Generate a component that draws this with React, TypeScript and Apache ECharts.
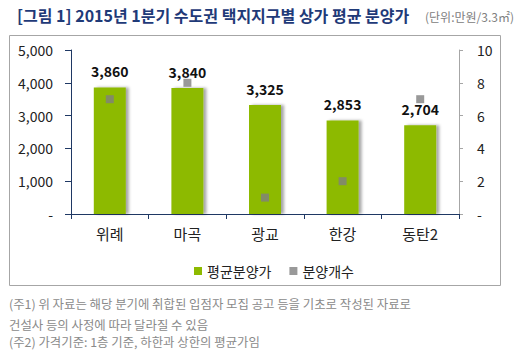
import React, { useEffect, useRef } from "react";
import * as echarts from "echarts";

const categories = ["위례", "마곡", "광교", "한강", "동탄2"];
const avgPrice = [3860, 3840, 3325, 2853, 2704];
const supplyCount = [7, 8, 1, 2, 7];
const seriesNames = ["평균분양가", "분양개수"];
const titleText = "[그림 1] 2015년 1분기 수도권 택지지구별 상가 평균 분양가";
const unitText = "(단위:만원/3.3㎡)";
const notes = [
  "(주1) 위 자료는 해당 분기에 취합된 입점자 모집 공고 등을 기초로 작성된 자료로",
  "건설사 등의 사정에 따라 달라질 수 있음",
  "(주2) 가격기준: 1층 기준, 하한과 상한의 평균가임",
];

const FONT = "'Noto Sans CJK KR', 'Noto Sans', sans-serif";

export default function App() {
  const ref = useRef<HTMLDivElement>(null);
  useEffect(() => {
    document.body.style.margin = "0";
    const chart = echarts.init(ref.current!, null, { renderer: "svg" });
    const navy = "#1f3864";
    chart.setOption({
      animation: false,
      backgroundColor: "#ffffff",
      textStyle: { fontFamily: FONT },
      grid: { left: 71, right: 71, top: 50, bottom: 140 },
      legend: {
        left: 189,
        top: 259,
        itemWidth: 8,
        itemHeight: 8,
        itemGap: 18,
        icon: "rect",
        textStyle: { fontSize: 14, color: "#222", fontFamily: FONT },
        data: seriesNames,
      },
      xAxis: {
        type: "category",
        data: categories,
        axisLine: { lineStyle: { color: navy, width: 1 } },
        axisTick: { show: true, length: 5, lineStyle: { color: navy } },
        axisLabel: { fontSize: 15, color: "#222", margin: 12, fontFamily: FONT },
      },
      yAxis: [
        {
          type: "value",
          min: 0,
          max: 5000,
          interval: 1000,
          splitLine: { show: false },
          axisLine: { show: true, lineStyle: { color: navy } },
          axisTick: { show: true, length: 6, lineStyle: { color: navy } },
          axisLabel: {
            fontSize: 14,
            color: "#222",
            margin: 18,
            fontFamily: FONT,
            formatter: (v: number) => (v === 0 ? "-" : v.toLocaleString("en-US")),
          },
        },
        {
          type: "value",
          min: 0,
          max: 10,
          interval: 2,
          position: "right",
          splitLine: { show: false },
          axisLine: { show: true, lineStyle: { color: "#a6a6a6" } },
          axisTick: { show: true, length: 4, lineStyle: { color: "#a6a6a6" } },
          axisLabel: {
            fontSize: 14,
            color: "#222",
            margin: 18,
            fontFamily: FONT,
            formatter: (v: number) => (v === 0 ? "-" : String(v)),
          },
        },
      ],
      series: [
        {
          name: seriesNames[0],
          type: "bar",
          data: avgPrice,
          barWidth: 32,
          yAxisIndex: 0,
          itemStyle: {
            color: "#8dba00",
            shadowColor: "rgba(0,0,0,0.35)",
            shadowBlur: 3,
            shadowOffsetX: 3,
          },
          label: {
            show: true,
            position: "top",
            distance: 9,
            fontSize: 14,
            fontWeight: "bold",
            color: "#111",
            fontFamily: FONT,
            formatter: (p: any) => Number(p.value).toLocaleString("en-US"),
          },
        },
        {
          name: seriesNames[1],
          type: "scatter",
          data: supplyCount,
          yAxisIndex: 1,
          symbol: "rect",
          symbolSize: 8,
          itemStyle: { color: "#7f7f7f" },
          z: 5,
        },
      ],
      graphic: [
        {
          type: "rect",
          shape: { x: 9.5, y: 35.5, width: 491, height: 250 },
          style: { fill: "none", stroke: "#a6a6a6", lineWidth: 1 },
          z: -1,
        },
        {
          type: "text",
          x: 17,
          y: 15,
          style: {
            text: titleText,
            fontSize: 16,
            fontWeight: "bold",
            fill: "#1f3a78",
            fontFamily: FONT,
            verticalAlign: "middle",
          },
        },
        {
          type: "text",
          x: 425,
          y: 16,
          style: {
            text: unitText,
            fontSize: 12,
            fill: "#808080",
            fontFamily: FONT,
            verticalAlign: "middle",
          },
        },
        ...notes.map((t, i) => ({
          type: "text",
          x: 9,
          y: [303.5, 324.5, 341.5][i],
          style: {
            text: t,
            fontSize: 12.4,
            fill: "#8a8a8a",
            fontFamily: FONT,
            verticalAlign: "middle",
          },
        })),
      ],
    });
    return () => chart.dispose();
  }, []);
  return <div ref={ref} style={{ width: 530, height: 354 }} />;
}
